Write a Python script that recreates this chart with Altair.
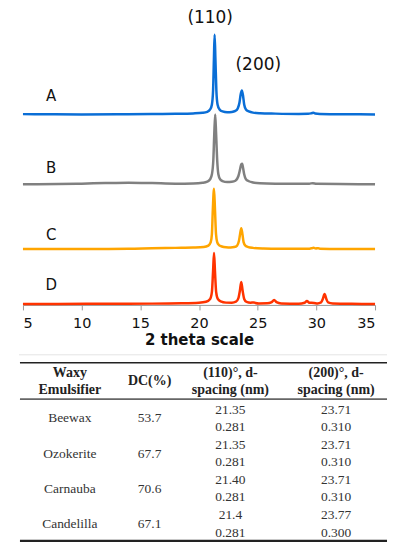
import altair as alt
import pandas as pd

# ---------------- XRD traces (2 theta, intensity) ----------------
samples = ["A", "B", "C", "D"]
colors = ["#0A6ED6", "#808080", "#FFA500", "#FF3300"]

tt_A = [5, 7, 10, 13, 16, 18, 19.5, 20.3, 20.7, 20.95, 21.1, 21.2, 21.27, 21.33, 21.4, 21.48,
        21.58, 21.75, 22.0, 22.4, 22.8, 23.1, 23.3, 23.45, 23.55, 23.65, 23.75, 23.85, 24.0,
        24.25, 24.6, 25.2, 26.5, 28.5, 29.3, 29.6, 29.75, 29.9, 30.3, 32, 35]
int_A = [0.3, 0.2, 0.0, 0.1, 0.4, 0.6, 1.0, 1.6, 2.6, 5, 10, 24, 55, 80, 55, 24,
         10, 5, 3, 2.2, 2.4, 3.5, 6, 12, 20, 24, 19, 10, 5,
         3, 1.8, 1.2, 0.8, 0.5, 0.6, 1.2, 1.6, 0.9, 0.4, 0.2, 0]

tt_B = [5, 8, 10, 12, 14, 16, 18, 19.5, 20.3, 20.7, 20.95, 21.1, 21.22, 21.3, 21.38, 21.46,
        21.55, 21.65, 21.8, 22.0, 22.4, 22.8, 23.1, 23.35, 23.5, 23.6, 23.68, 23.76, 23.85,
        24.0, 24.25, 24.6, 25.2, 26.5, 28.5, 29.4, 29.7, 30.0, 32, 35]
int_B = [0, 0.2, 0.6, 1.2, 1.6, 1.2, 0.6, 0.8, 1.5, 2.6, 5, 10, 24, 50, 70, 50,
         24, 10, 5, 3.2, 2.2, 2.4, 3.5, 8, 15, 20, 20.5, 16, 10,
         5, 3, 1.8, 1, 0.6, 0.5, 0.6, 1.1, 0.4, 0.2, 0]

tt_C = [5, 8, 11, 14, 16, 18, 19.5, 20.4, 20.8, 21.0, 21.1, 21.18, 21.28, 21.36, 21.45, 21.55,
        21.7, 21.95, 22.3, 22.7, 23.0, 23.25, 23.4, 23.5, 23.6, 23.7, 23.8, 23.95, 24.2, 24.6,
        25.5, 27, 29.3, 29.6, 29.75, 29.95, 30.15, 30.3, 32, 35]
int_C = [0, 0, 0.1, 0.3, 0.8, 1.2, 1.5, 2, 3.5, 7, 15, 40, 60.5, 40, 15, 7,
         4, 2.6, 1.8, 1.6, 2, 3.5, 8, 15, 21, 15, 7, 3.5, 2, 1.2,
         0.6, 0.3, 0.2, 0.8, 1.3, 0.6, 0.9, 0.3, 0, 0]

tt_D = [5, 8, 12, 16, 18.5, 20.0, 20.6, 20.95, 21.1, 21.2, 21.28, 21.36, 21.46, 21.6, 21.85,
        22.3, 22.8, 23.15, 23.35, 23.48, 23.6, 23.72, 23.85, 24.05, 24.4, 24.65, 24.8, 25.1,
        25.8, 26.2, 26.4, 26.6, 27.0, 28.5, 29.0, 29.2, 29.4, 29.8, 30.1, 30.4, 30.55, 30.7,
        30.85, 31.0, 31.4, 33, 35]
int_D = [0, 0, 0.2, 0.3, 0.6, 1.2, 2.2, 5, 12, 33, 51, 33, 12, 5, 2.5,
         1.3, 1.2, 2.2, 5.5, 13, 22, 13, 5, 2, 1.2, 1.5, 1.0, 0.5,
         0.6, 1.8, 4, 1.8, 0.5, 0.2, 1.2, 3, 1.2, 1, 0.5, 1.5, 5, 10,
         5, 1.5, 0.4, 0.1, 0]

peak_labels = ["(110)", "(200)"]
peak_label_x = [20.95, 25.05]

# ---------------- table values ----------------
emulsifiers = ["Beewax", "Ozokerite", "Carnauba", "Candelilla"]
dc_pct = ["53.7", "67.7", "70.6", "67.1"]
pos_110 = ["21.35", "21.35", "21.40", "21.4"]
d_110 = ["0.281", "0.281", "0.281", "0.281"]
pos_200 = ["23.71", "23.71", "23.71", "23.77"]
d_200 = ["0.310", "0.310", "0.310", "0.300"]
headers = [["Waxy", "Emulsifier"], ["DC(%)"], ["(110)°, d-", "spacing (nm)"], ["(200)°, d-", "spacing (nm)"]]

# ---------------- layout (stack offsets, in px-like intensity units) ----------------
W1, H1 = 353, 296
offsets = [191, 121, 56, 1]
label_y = [209, 137, 70, 20]
peak_label_y = [287.5, 240.5]
FONT = "DejaVu Sans"

rows = []
for s, tt, it, off in zip(samples, [tt_A, tt_B, tt_C, tt_D], [int_A, int_B, int_C, int_D], offsets):
    for x, y in zip(tt, it):
        rows.append({"sample": s, "two_theta": x, "y": y + off})
traces = pd.DataFrame(rows)

xs = alt.Scale(domain=[5, 35], nice=False, zero=False)
ys = alt.Scale(domain=[0, H1], nice=False, zero=False)

lines = alt.Chart(traces).mark_line(strokeWidth=2.5, interpolate="monotone").encode(
    x=alt.X("two_theta:Q", scale=xs,
            axis=alt.Axis(values=[5, 10, 15, 20, 25, 30, 35], title="2 theta scale",
                          titleFont=FONT, titleFontSize=15, titleFontWeight="bold",
                          titleColor="#111", titlePadding=2,
                          labelFont=FONT, labelFontSize=14.5, labelColor="#111",
                          labelPadding=7, tickSize=5, tickColor="#999",
                          domainColor="#999", grid=False)),
    y=alt.Y("y:Q", scale=ys, axis=None),
    color=alt.Color("sample:N", scale=alt.Scale(domain=samples, range=colors), legend=None),
)

lab_df = pd.DataFrame({"s": samples, "x": [7.4] * 4, "y": label_y})
sample_labels = alt.Chart(lab_df).mark_text(font=FONT, fontSize=15, color="#111").encode(
    x=alt.X("x:Q", scale=xs), y=alt.Y("y:Q", scale=ys), text="s:N")

pk_df = pd.DataFrame({"t": peak_labels, "x": peak_label_x, "y": peak_label_y})
peak_text = alt.Chart(pk_df).mark_text(font=FONT, fontSize=17, color="#111").encode(
    x=alt.X("x:Q", scale=xs), y=alt.Y("y:Q", scale=ys), text="t:N")

xrd = alt.layer(lines, sample_labels, peak_text).properties(width=W1, height=H1)

# ---------------- table ----------------
H2 = 194
col_x = [47, 127, 208, 314]
head_y = [24, 41]
head_mid = 32.5
row_y0, row_step = 61, 17.6

tx = alt.Scale(domain=[0, W1], nice=False, zero=False)
ty = alt.Scale(domain=[H2, 0], nice=False, zero=False)

hrows = []
for c, lines_ in enumerate(headers):
    if len(lines_) == 1:
        hrows.append({"x": col_x[c], "y": head_mid, "t": lines_[0]})
    else:
        for k, t in enumerate(lines_):
            hrows.append({"x": col_x[c], "y": head_y[k], "t": t})
head_df = pd.DataFrame(hrows)

brows = []
for i in range(len(emulsifiers)):
    y1 = row_y0 + row_step * (2 * i)
    y2 = row_y0 + row_step * (2 * i + 1)
    mid = (y1 + y2) / 2
    brows += [
        {"x": col_x[0], "y": mid, "t": emulsifiers[i]},
        {"x": col_x[1], "y": mid, "t": dc_pct[i]},
        {"x": col_x[2], "y": y1, "t": pos_110[i]},
        {"x": col_x[2], "y": y2, "t": d_110[i]},
        {"x": col_x[3], "y": y1, "t": pos_200[i]},
        {"x": col_x[3], "y": y2, "t": d_200[i]},
    ]
body_df = pd.DataFrame(brows)

SERIF = "Liberation Serif"
head_text = alt.Chart(head_df).mark_text(font=SERIF, fontSize=14, fontWeight="bold", color="#222").encode(
    x=alt.X("x:Q", scale=tx, axis=None), y=alt.Y("y:Q", scale=ty, axis=None), text="t:N")
body_text = alt.Chart(body_df).mark_text(font=SERIF, fontSize=13.5, color="#333").encode(
    x=alt.X("x:Q", scale=tx, axis=None), y=alt.Y("y:Q", scale=ty, axis=None), text="t:N")

kinds = ["light", "top", "head", "bottom"]
rule_df = pd.DataFrame({
    "kind": kinds,
    "x": [-4, -3, -3, -3], "x2": [365, 365, 365, 365],
    "y": [6, 14, 50.5, 192.5],
})
rules = alt.Chart(rule_df).mark_rule().encode(
    x=alt.X("x:Q", scale=tx, axis=None), x2="x2:Q",
    y=alt.Y("y:Q", scale=ty, axis=None),
    color=alt.Color("kind:N", scale=alt.Scale(domain=kinds,
                                               range=["#e4e4e4", "#222222", "#666666", "#222222"]),
                    legend=None),
    strokeWidth=alt.StrokeWidth("kind:N", scale=alt.Scale(domain=kinds, range=[1, 2.2, 1.4, 2.0]),
                                legend=None),
)

table = alt.layer(rules, head_text, body_text).properties(width=W1, height=H2)

chart = alt.VConcatChart(vconcat=[xrd, table], spacing=44, bounds="flush").properties(
    padding={"left": 10, "top": 0, "right": 0, "bottom": 0},
    background="white",
).resolve_scale(x="independent", y="independent", color="independent",
                strokeWidth="independent").configure_view(stroke=None)

chart.save("out.html", embed_options={"renderer": "svg", "actions": False})
